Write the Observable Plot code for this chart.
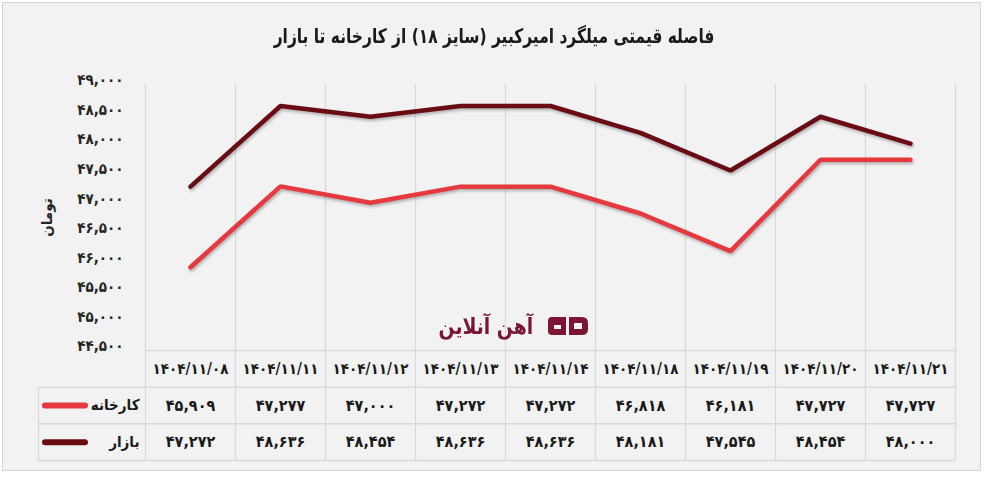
<!DOCTYPE html>
<html><head><meta charset="utf-8">
<script src="https://cdn.jsdelivr.net/npm/d3@7"></script>
<script src="https://cdn.jsdelivr.net/npm/@observablehq/plot@0.6"></script>
<style>
body{margin:0;background:#fff;width:988px;height:477px;position:relative;overflow:hidden;}
#frame{position:absolute;left:2px;top:2px;width:979px;height:469px;background:#f2f2f2;border:1px solid #d4d4d4;box-sizing:border-box;}
#title{position:absolute;left:0;top:24px;width:988px;text-align:center;font:bold 20px "DejaVu Sans Condensed","DejaVu Sans";color:#1a1a1a;direction:rtl;transform:scaleX(0.86);transform-origin:494px 0;}
#chart{position:absolute;left:0;top:0;}
#table{position:absolute;left:0;top:350px;}
#wm{position:absolute;left:436px;top:309px;width:200px;height:34px;display:flex;align-items:center;gap:10px;direction:ltr;}
#wm span{font:600 22px "DejaVu Sans Condensed","DejaVu Sans";color:#7a1533;transform:scaleX(0.95);}
</style>
</head><body>
<div id="frame"></div>
<div id="title"></div>
<div id="chart"></div>
<div id="wm"><span>آهن آنلاین</span>
<svg width="44" height="22" viewBox="0 0 44 22"><path d="M2 6 Q2 2 6 2 L20 2 L20 20 L6 20 Q2 20 2 16 Z M8 10 L8 14 L15 14 L15 10 Z" fill="#7a1533" fill-rule="evenodd"/><path d="M23 2 L36 2 Q42 2 42 8 L42 14 Q42 20 36 20 L23 20 Z M28 8 L28 14 L36 14 L36 8 Z" fill="#7a1533" fill-rule="evenodd"/></svg></div>
<div id="table"></div>
<script>
const titleText = "فاصله قیمتی میلگرد امیرکبیر (سایز ۱۸) از کارخانه تا بازار";
const yLabel = "تومان";
const dates = ["1404/11/08","1404/11/11","1404/11/12","1404/11/13","1404/11/14","1404/11/18","1404/11/19","1404/11/20","1404/11/21"];
const factory = [45909,47277,47000,47272,47272,46818,46181,47727,47727];
const market  = [47272,48636,48454,48636,48636,48181,47545,48454,48000];
const seriesNames = ["کارخانه","بازار"];
const seriesColors = ["#e6393f","#6a0c14"];
const yTicks = [44500,45000,45500,46000,46500,47000,47500,48000,48500,49000];

const faDigits = "۰۱۲۳۴۵۶۷۸۹";
const fa = s => String(s).replace(/\d/g, d => faDigits[d]);
const fmt = v => fa(d3.format(",")(v));

document.getElementById("title").textContent = titleText;

const rows = [];
dates.forEach((d,i) => {
  rows.push({i, date:d, series:seriesNames[0], value:factory[i]});
  rows.push({i, date:d, series:seriesNames[1], value:market[i]});
});

const FONT = '"DejaVu Sans Condensed","DejaVu Sans"';
const W = 988;
const n = dates.length;
const bounds = d3.range(-0.5, n);

const chart = Plot.plot({
  width: W, height: 350,
  marginTop: 84, marginBottom: 0, marginLeft: 145, marginRight: 33,
  style: {background:"transparent", fontFamily: FONT, fontSize:"15px", fontWeight:"bold", color:"#262626", overflow:"visible"},
  x: {type:"linear", domain:[-0.5, n-0.5], axis:null},
  y: {domain:[44500,49000], axis:null},
  color: {domain: seriesNames, range: seriesColors},
  marks: [
    Plot.axisY(yTicks, {tickFormat:fmt, tickSize:0, tickPadding:22, dy:-4, label:null}),
    Plot.axisY({ticks:[], tickSize:0, label:yLabel, labelAnchor:"center", labelArrow:"none", labelOffset:104}),
    Plot.ruleX(bounds, {stroke:"#d9d9d9", strokeWidth:1.3, strokeOpacity:1}),
    Plot.line(rows, {x:"i", y:"value", z:"series", stroke:"series", strokeWidth:4.5, strokeLinejoin:"miter", strokeLinecap:"round"})
  ]
});
chart.querySelectorAll('g[aria-label="line"]').forEach(g => g.style.filter = "drop-shadow(1px 2px 1.5px rgba(0,0,0,0.28))");
document.getElementById("chart").appendChild(chart);

// Table below the chart, sharing the category positions
const L = -0.5 - 107/90; // left edge of legend column in category units
const valueRows = [factory, market];
const cells = [];
valueRows.forEach((arr, r) => arr.forEach((v, i) => cells.push({i, r: r + 1, text: fmt(v)})));
const legend = seriesNames.map((s, r) => ({s, r: r + 1, color: seriesColors[r]}));

const table = Plot.plot({
  width: W, height: 112,
  marginTop: 0, marginBottom: 2, marginLeft: 38, marginRight: 33,
  style: {background:"transparent", fontFamily: FONT, fontSize:"16px", fontWeight:"bold", color:"#1a1a1a", overflow:"visible"},
  x: {type:"linear", domain:[L, n-0.5], axis:null},
  y: {type:"linear", domain:[0,3], reverse:true, axis:null},
  marks: [
    Plot.ruleY([0], {x1:-0.5, x2:n-0.5, stroke:"#d9d9d9", strokeWidth:1.5, strokeOpacity:1}),
    Plot.ruleY([1,2,3], {x1:L, x2:n-0.5, stroke:"#d9d9d9", strokeWidth:1.5, strokeOpacity:1}),
    Plot.ruleX(bounds, {y1:0, y2:3, stroke:"#d9d9d9", strokeWidth:1.3, strokeOpacity:1}),
    Plot.ruleX([L], {y1:1, y2:3, stroke:"#d9d9d9", strokeWidth:1.3, strokeOpacity:1}),
    Plot.text(dates, {x:(d,i)=>i, y:0.5, text:d=>fa(d), fill:"#1a1a1a", fontSize:15}),
    Plot.text(cells, {x:"i", y:d=>d.r+0.5, text:"text", fill:"#1a1a1a"}),
    Plot.ruleY(legend, {y:d=>d.r+0.5, x1:L+7/90, x2:L+47/90, stroke:"color", strokeWidth:6, strokeLinecap:"round"}),
    Plot.text(legend, {y:d=>d.r+0.5, x:-0.5-6/90, text:"s", textAnchor:"end", fill:"#1a1a1a", fontSize:15})
  ]
});
document.getElementById("table").appendChild(table);
</script>
</body></html>
